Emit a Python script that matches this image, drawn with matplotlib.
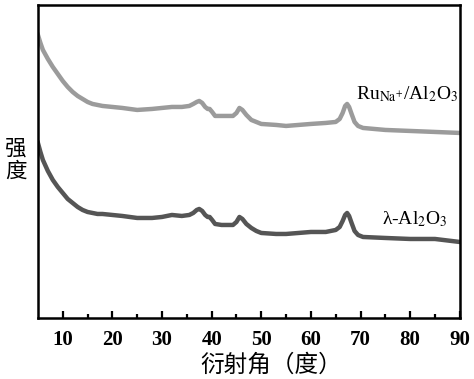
import matplotlib
matplotlib.use("Agg")
import matplotlib.pyplot as plt
import numpy as np

# 2-theta values (degrees)
two_theta = [5, 5.5, 6, 7, 8, 9, 10, 11, 12, 13, 14, 15, 16, 17, 18, 20, 22, 25, 28, 30, 32,
             34, 35.5, 36.3, 37, 37.5, 38.1, 38.7, 39.2, 39.6, 40.1, 40.7, 42, 44.3, 45,
             45.6, 46.2, 47, 48, 49, 50, 53, 55, 60, 63, 65, 65.8, 66.4, 66.9, 67.3, 67.7,
             68.2, 68.8, 69.5, 70.5, 75, 80, 85, 90]
# intensity (arbitrary units), Ru_Na+/Al2O3
ru_na = [283, 275, 268, 259, 251, 244, 237, 231, 226, 222, 219, 216, 214, 213, 212, 211, 210, 208, 209, 210, 211,
         211, 212, 214, 216, 217, 215, 211, 209, 209, 206, 202, 202, 202, 205,
         210, 208, 203, 198, 196, 194, 193, 192, 194, 195, 196, 199, 205, 212, 214, 211,
         204, 196, 192, 190, 188, 187, 186, 185]
# intensity (arbitrary units), lambda-Al2O3
al2o3 = [175, 166, 158, 147, 138, 131, 125, 119, 115, 111, 108, 106, 105, 104, 104, 103, 102, 100, 100, 101, 103,
         102, 103, 105, 108, 109, 107, 103, 101, 101, 98, 94, 93, 93, 96,
         101, 99, 94, 90, 87, 85, 84, 84, 86, 86, 88, 91, 97, 103, 105, 102,
         95, 87, 83, 81, 80, 79, 79, 76]

xticks = [10, 20, 30, 40, 50, 60, 70, 80, 90]

fig = plt.figure(figsize=(4.74, 3.79), dpi=100)
ax = fig.add_axes([0.080, 0.161, 0.890, 0.826])

ax.plot(two_theta, ru_na, color="#9b9b9b", lw=3.2, solid_joinstyle="round")
ax.plot(two_theta, al2o3, color="#555555", lw=3.2, solid_joinstyle="round")

ax.set_xlim(5, 90)
ax.set_ylim(0, 313)
ax.set_yticks([])
ax.set_xticks(xticks)
ax.set_xticks(np.arange(15, 90, 10), minor=True)
ax.tick_params(axis="x", which="major", direction="in", length=5, width=1.6, pad=9)
ax.tick_params(axis="x", which="minor", direction="in", length=3, width=1.6)
for lab in ax.get_xticklabels():
    lab.set_fontfamily("Liberation Serif")
    lab.set_fontweight("bold")
    lab.set_fontsize(15)
for s in ax.spines.values():
    s.set_linewidth(1.8)

ax.set_xlabel("衍射角（度）", fontfamily=["Noto Sans CJK SC", "DejaVu Sans"],
              fontsize=17, va="center")
ax.xaxis.set_label_coords(0.553, -0.150)
fig.text(0.033, 0.578, "强\n度", fontfamily=["Noto Sans CJK SC", "DejaVu Sans"],
         fontsize=15.5, ha="center", va="center", linespacing=1.05)

ax.text(0.996, 0.715, r"Ru$_{\mathrm{Na}^{+}}$/Al$_2$O$_3$", transform=ax.transAxes,
        fontfamily="Liberation Serif", fontsize=14, ha="right", va="center",
        math_fontfamily="stix")
ax.text(0.972, 0.315, r"λ-Al$_2$O$_3$", transform=ax.transAxes,
        fontfamily="Liberation Serif", fontsize=14, ha="right", va="center",
        math_fontfamily="stix")

fig.savefig("out.png", dpi=100)
